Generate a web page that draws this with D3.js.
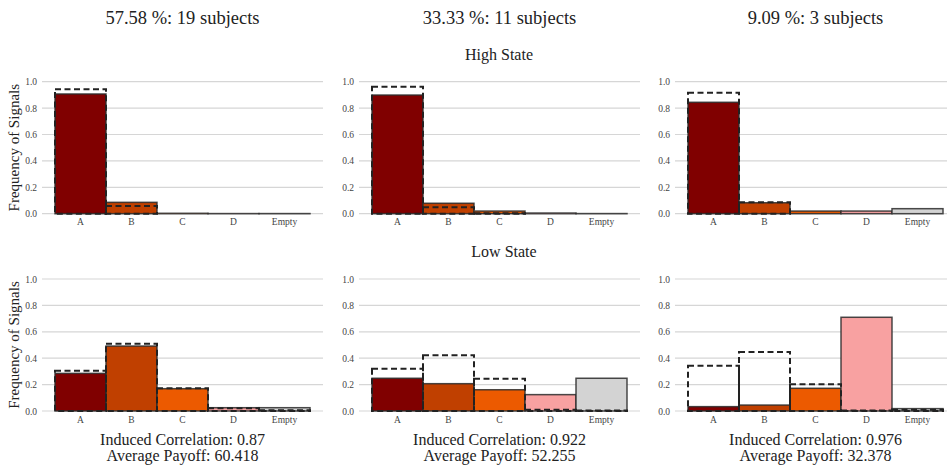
<!DOCTYPE html>
<html>
<head>
<meta charset="utf-8">
<script src="https://cdn.jsdelivr.net/npm/d3@7"></script>
<style>
  body { margin: 0; background: #fff; }
  svg { display: block; font-family: "Liberation Serif", "DejaVu Serif", serif; }
  .tick line { display: none; }
  .domain { display: none; }
</style>
</head>
<body>
<div id="chart"></div>
<script>
const width = 947;
const height = 470;

const categories = ["A", "B", "C", "D", "Empty"];
const colors = ["#800000", "#c04000", "#ec5a00", "#f8a1a1", "#d3d3d3"];

const columnTitles = ["57.58 %: 19 subjects", "33.33 %: 11 subjects", "9.09 %: 3 subjects"];
const correlations = ["0.87", "0.922", "0.976"];
const payoffs = ["60.418", "52.255", "32.378"];

// observed frequencies (filled bars), one array per column
const highObserved = [
  [0.907, 0.086, 0.003, 0.001, 0.001],
  [0.899, 0.079, 0.02, 0.005, 0.001],
  [0.844, 0.083, 0.02, 0.02, 0.038],
];
const highDashed = [
  [0.942, 0.058, 0.0, 0.0, 0.0],
  [0.962, 0.048, 0.003, 0.0, 0.0],
  [0.917, 0.086, 0.0, 0.0, 0.0],
];
const lowObserved = [
  [0.285, 0.492, 0.169, 0.025, 0.025],
  [0.248, 0.207, 0.161, 0.124, 0.248],
  [0.033, 0.045, 0.172, 0.71, 0.018],
];
const lowDashed = [
  [0.305, 0.51, 0.172, 0.02, 0.005],
  [0.32, 0.422, 0.245, 0.01, 0.003],
  [0.343, 0.447, 0.202, 0.003, 0.01],
];

const yTicks = [0, 0.2, 0.4, 0.6, 0.8, 1.0];

const panelLefts = [42, 359, 675];
const panelWidth = 281;
const barInset = 13;
const rows = [
  { top: 81.7, bottom: 213.7, observed: highObserved, dashed: highDashed },
  { top: 279, bottom: 411, observed: lowObserved, dashed: lowDashed },
];

const svg = d3
  .select("#chart")
  .append("svg")
  .attr("width", width)
  .attr("height", height);

rows.forEach((row, r) => {
  const yScale = d3.scaleLinear().domain([0, 1]).range([row.bottom, row.top]);

  panelLefts.forEach((left, c) => {
    const xScale = d3
      .scaleBand()
      .domain(categories)
      .range([left + barInset, left + panelWidth - barInset])
      .padding(0);

    const g = svg.append("g");

    // grid lines
    g.selectAll("line.grid")
      .data(yTicks)
      .enter()
      .append("line")
      .attr("class", "grid")
      .attr("x1", left)
      .attr("x2", left + panelWidth)
      .attr("y1", (d) => yScale(d))
      .attr("y2", (d) => yScale(d))
      .attr("stroke", "#d6d6d6")
      .attr("stroke-width", 1.2);

    // y axis labels
    const yAxis = d3
      .axisLeft(yScale)
      .tickValues(yTicks)
      .tickFormat(d3.format(".1f"))
      .tickSize(0)
      .tickPadding(5);
    g.append("g")
      .attr("transform", `translate(${left}, 0)`)
      .call(yAxis)
      .call((a) => a.selectAll("text").attr("font-size", 9.5).attr("fill", "#444").attr("font-family", "Liberation Serif"));

    // x axis labels
    const xAxis = d3.axisBottom(xScale).tickSize(0).tickPadding(5);
    g.append("g")
      .attr("transform", `translate(0, ${row.bottom})`)
      .call(xAxis)
      .call((a) => a.selectAll("text").attr("font-size", 9.5).attr("fill", "#444").attr("font-family", "Liberation Serif"));

    // observed bars
    g.selectAll("rect.bar")
      .data(row.observed[c])
      .enter()
      .append("rect")
      .attr("class", "bar")
      .attr("x", (d, i) => xScale(categories[i]))
      .attr("width", xScale.bandwidth())
      .attr("y", (d) => yScale(d))
      .attr("height", (d) => yScale(0) - yScale(d))
      .attr("fill", (d, i) => colors[i])
      .attr("stroke", "#2a2a2a")
      .attr("stroke-opacity", 0.85)
      .attr("stroke-width", 1.5);

    // dashed reference bars
    g.selectAll("rect.ref")
      .data(row.dashed[c])
      .enter()
      .append("rect")
      .attr("class", "ref")
      .attr("x", (d, i) => xScale(categories[i]))
      .attr("width", xScale.bandwidth())
      .attr("y", (d) => yScale(d))
      .attr("height", (d) => yScale(0) - yScale(d))
      .attr("fill", "none")
      .attr("stroke", "#222")
      .attr("stroke-width", 2)
      .attr("stroke-dasharray", "6,3.5");

    if (c === 0) {
      svg
        .append("text")
        .attr("transform", `translate(19, ${(row.top + row.bottom) / 2}) rotate(-90)`)
        .attr("text-anchor", "middle")
        .attr("font-size", 15)
        .attr("fill", "#222")
        .text("Frequency of Signals");
    }
  });
});

// column titles
panelLefts.forEach((left, c) => {
  const cx = left + panelWidth / 2;
  svg
    .append("text")
    .attr("x", cx)
    .attr("y", 24)
    .attr("text-anchor", "middle")
    .attr("font-size", 18.5)
    .attr("fill", "#222")
    .text(columnTitles[c]);

  svg
    .append("text")
    .attr("x", cx)
    .attr("y", 445)
    .attr("text-anchor", "middle")
    .attr("font-size", 16)
    .attr("fill", "#222")
    .text(`Induced Correlation: ${correlations[c]}`);

  svg
    .append("text")
    .attr("x", cx)
    .attr("y", 461)
    .attr("text-anchor", "middle")
    .attr("font-size", 16)
    .attr("fill", "#222")
    .text(`Average Payoff: ${payoffs[c]}`);
});

svg
  .append("text")
  .attr("x", 499)
  .attr("y", 60)
  .attr("text-anchor", "middle")
  .attr("font-size", 16)
  .attr("fill", "#222")
  .text("High State");

svg
  .append("text")
  .attr("x", 504)
  .attr("y", 257)
  .attr("text-anchor", "middle")
  .attr("font-size", 16)
  .attr("fill", "#222")
  .text("Low State");
</script>
</body>
</html>
